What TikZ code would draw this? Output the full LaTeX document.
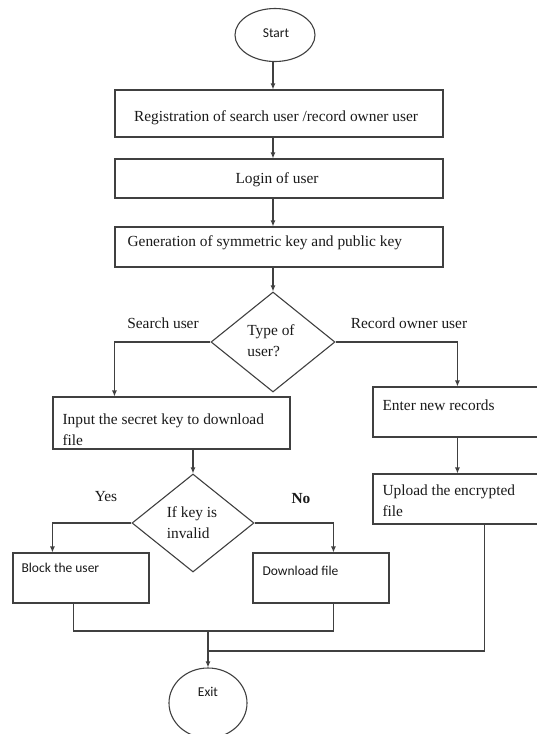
\documentclass[tikz,border=0pt]{standalone}
\usepackage{fontspec}
\setmainfont{Liberation Serif}
\newfontfamily\calibri{Carlito}
\usetikzlibrary{arrows.meta,shapes.geometric}
\begin{document}
\begin{tikzpicture}[x=1pt, y=-1pt,
    line width=1.1pt, draw=black!75,
    arr/.style={-{Latex[length=6pt,width=5pt]}},
    box/.style={rectangle, draw=black!75, inner sep=0pt},
    oval/.style={ellipse, draw=black!75, inner sep=0pt},
    choice/.style={diamond, draw=black!75, inner sep=0pt, aspect=1.24},
    txt/.style={text=black!90, font=\fontsize{15.4}{21}\selectfont, inner sep=0pt},
    stxt/.style={text=black!90, font=\calibri\fontsize{13.5}{16}\selectfont, inner sep=0pt}]
  	\useasboundingbox (0,0) rectangle (537,734);
  	\clip (0,0) rectangle (537,734);
  	% shapes
  	\node[oval, minimum width=80pt, minimum height=53pt](start) at (275,35) {};
  	\node[box, minimum width=328pt, minimum height=47pt](reg) at (279,113.5) {};
  	\node[box, minimum width=328pt, minimum height=39pt](login) at (279,178.5) {};
  	\node[box, minimum width=328pt, minimum height=40pt](gen) at (279,247) {};
  	\node[choice, minimum width=124pt, minimum height=100pt](type) at (273,342) {};
  	\node[box, minimum width=237pt, minimum height=52pt](input) at (171.5,423) {};
  	\node[box, minimum width=187pt, minimum height=50pt](enter) at (466.5,412) {};
  	\node[box, minimum width=187pt, minimum height=50pt](upload) at (466.5,499) {};
  	\node[choice, minimum width=122pt, minimum height=98pt](key) at (193,523) {};
  	\node[box, minimum width=136pt, minimum height=50pt](block) at (81,578) {};
  	\node[box, minimum width=136pt, minimum height=50pt](download) at (321,578) {};
  	\node[oval, minimum width=78pt, minimum height=70pt](exit) at (208,703) {};
  	\coordinate (join1) at (208,631);
  	\coordinate (join2) at (208,651);
  	
  	% texts
  	\node[stxt](starttext) at (276,33) {Start};
  	\node[txt](regtext) at (276,118) {Registration of search user /record owner user};
  	\node[txt](logintext) at (277,180) {Login of user};
  	\node[txt, anchor=west](gentext) at (127,243) {Generation of symmetric key and public key};
  	\node[txt, align=left](typetext) at (271,341) {Type of\\user?};
  	\node[txt](searchlbl) at (163,323) {Search user};
  	\node[txt](recordlbl) at (409,323) {Record owner user};
  	\node[txt, anchor=west, align=left](inputtext) at (62,430) {Input the secret key to download\\file};
  	\node[txt, anchor=west](entertext) at (382,405) {Enter new records};
  	\node[txt, anchor=west, align=left](uploadtext) at (382,501) {Upload the encrypted\\file};
  	\node[txt, align=left](keytext) at (192,523) {If key is\\invalid};
  	\node[txt](yeslbl) at (106,497) {Yes};
  	\node[txt, font=\bfseries\fontsize{15.4}{21}\selectfont](nolbl) at (301,499) {No};
  	\node[stxt, anchor=west](blocktext) at (21,568) {Block the user};
  	\node[stxt, anchor=west](downloadtext) at (262,571) {Download file};
  	\node[stxt](exittext) at (208,692) {Exit};
  	
  	% connectors
  	\draw[arr] (start.south -| type.north) -- (reg.north -| type.north);
  	\draw[arr] (reg.south -| type.north) -- (login.north -| type.north);
  	\draw[arr] (login.south -| type.north) -- (gen.north -| type.north);
  	\draw[arr] (gen.south -| type.north) -- (type.north);
  	\draw[arr] (type.west) -| ([xshift=62pt]input.north west);
  	\draw[arr] (type.east) -| ([xshift=85pt]enter.north west);
  	\draw[arr] ([xshift=85pt]enter.south west) -- ([xshift=85pt]upload.north west);
  	\draw[arr] (input.south -| key.north) -- (key.north);
  	\draw[arr] (key.west) -| ([xshift=40pt]block.north west);
  	\draw[arr] (key.east) -| ([xshift=81pt]download.north west);
  	\draw ([xshift=61pt]block.south west) |- (join1) -| ([xshift=81pt]download.south west);
  	\draw ([xshift=112pt]upload.south west) |- (join2);
  	\draw[arr] (join1) -- (exit.north);
\end{tikzpicture}
\end{document}
